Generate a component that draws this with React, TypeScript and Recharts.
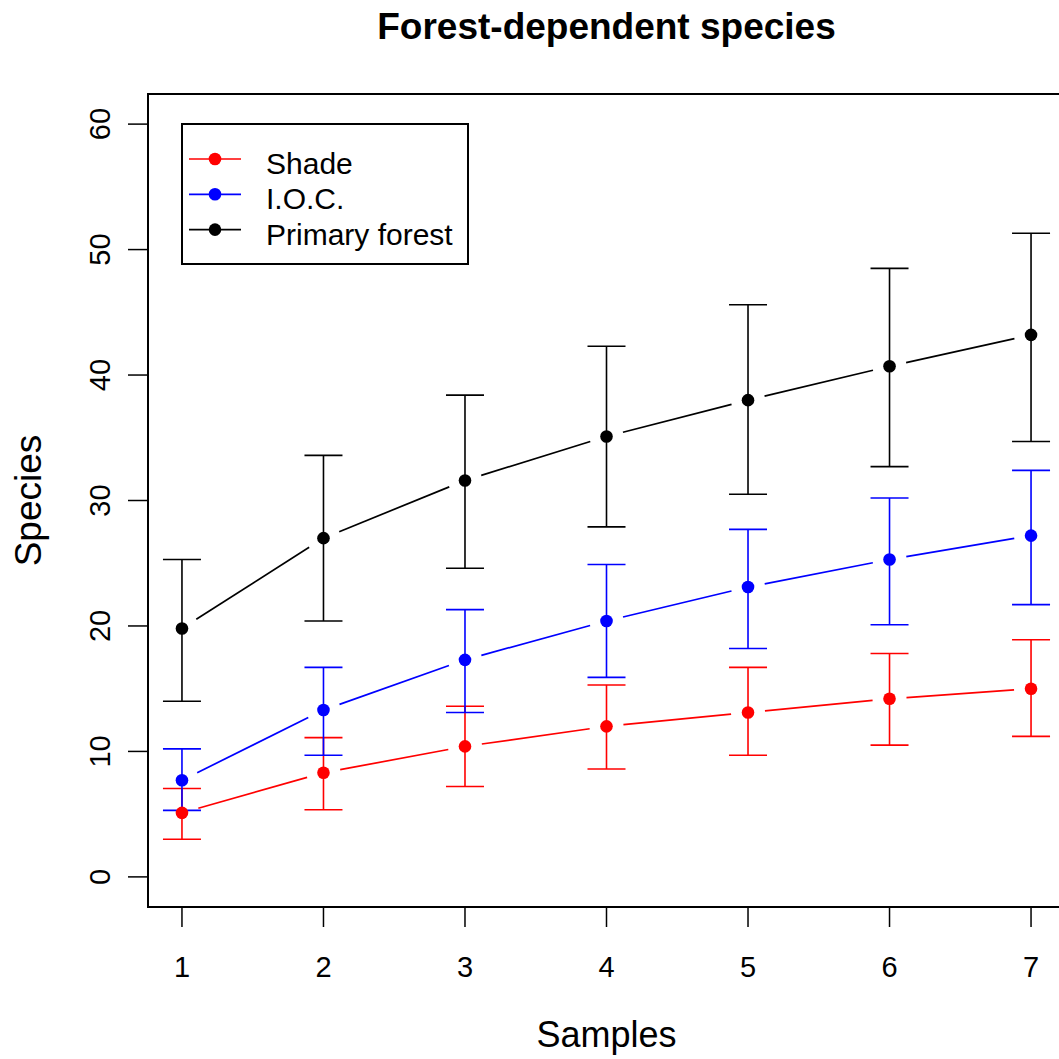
import React from "react";
import {
  ComposedChart,
  Line,
  XAxis,
  YAxis,
  ErrorBar,
  ReferenceArea,
} from "recharts";

// samples on the x axis
const samples = [1, 2, 3, 4, 5, 6, 7];

// Shade
const shadeMean = [5.1, 8.3, 10.4, 12.0, 13.1, 14.2, 15.0];
const shadeLow = [3.0, 5.35, 7.2, 8.6, 9.7, 10.5, 11.2];
const shadeHigh = [7.05, 11.1, 13.6, 15.3, 16.7, 17.8, 18.9];

// I.O.C.
const iocMean = [7.7, 13.3, 17.3, 20.4, 23.1, 25.3, 27.2];
const iocLow = [5.3, 9.7, 13.1, 15.9, 18.2, 20.1, 21.7];
const iocHigh = [10.2, 16.7, 21.3, 24.9, 27.7, 30.2, 32.4];

// Primary forest
const forestMean = [19.8, 27.0, 31.6, 35.1, 38.0, 40.7, 43.2];
const forestLow = [14.0, 20.4, 24.6, 27.9, 30.5, 32.7, 34.7];
const forestHigh = [25.3, 33.6, 38.4, 42.3, 45.6, 48.5, 51.3];

const yTicks = [0, 10, 20, 30, 40, 50, 60];

const series = [
  { key: "shade", name: "Shade", color: "#ff0000", mean: shadeMean, low: shadeLow, high: shadeHigh },
  { key: "ioc", name: "I.O.C.", color: "#0000ff", mean: iocMean, low: iocLow, high: iocHigh },
  { key: "forest", name: "Primary forest", color: "#000000", mean: forestMean, low: forestLow, high: forestHigh },
];

const data = samples.map((s, i) => {
  const row: any = { sample: s };
  series.forEach((sr) => {
    row[sr.key] = sr.mean[i];
    row[sr.key + "Err"] = [sr.mean[i] - sr.low[i], sr.high[i] - sr.mean[i]];
  });
  return row;
});

const FONT = '"Liberation Sans", Arial, Helvetica, sans-serif';
const GAP = 17;

// R type="b": points joined by segments that stop short of each point.
// Each dot draws the segment coming in from the previous dot.
const makeDot = (color: string) => {
  let prev: { x: number; y: number } | null = null;
  return (props: any) => {
    const { cx, cy, index, points } = props;
    let from = null;
    if (points && index > 0 && points[index - 1]) {
      from = { x: points[index - 1].x, y: points[index - 1].y };
    } else if (index > 0 && prev) {
      from = prev;
    }
    prev = { x: cx, y: cy };
    let seg = null;
    if (from) {
      const dx = cx - from.x;
      const dy = cy - from.y;
      const len = Math.sqrt(dx * dx + dy * dy);
      if (len > GAP * 2) {
        const ux = dx / len;
        const uy = dy / len;
        seg = (
          <line
            x1={from.x + ux * GAP}
            y1={from.y + uy * GAP}
            x2={cx - ux * GAP}
            y2={cy - uy * GAP}
            stroke={color}
            strokeWidth={1.7}
          />
        );
      }
    }
    return (
      <g key={`dot-${index}`}>
        {seg}
        <circle cx={cx} cy={cy} r={6.3} fill={color} />
      </g>
    );
  };
};

const YTick = ({ x, y, payload }: any) => (
  <text
    transform={`translate(${x - 16},${y}) rotate(-90)`}
    textAnchor="middle"
    fontSize={29}
    fontFamily={FONT}
    fill="#000"
  >
    {payload.value}
  </text>
);

const XTick = ({ x, y, payload }: any) => (
  <text x={x} y={y + 48} textAnchor="middle" fontSize={29} fontFamily={FONT} fill="#000">
    {payload.value}
  </text>
);

const Legend = () => (
  <svg
    width={290}
    height={144}
    style={{ position: "absolute", left: 180, top: 122 }}
  >
    <rect x={2} y={2} width={286} height={140} fill="#fff" stroke="#000" strokeWidth={2} />
    {series.map((s, i) => {
      const cy = 37 + i * 35.3;
      return (
        <g key={s.key}>
          <line x1={9} y1={cy} x2={61} y2={cy} stroke={s.color} strokeWidth={1.7} />
          <circle cx={35} cy={cy} r={6.3} fill={s.color} />
          <text x={86} y={cy + 15} fontSize={30} fontFamily={FONT} fill="#000">
            {s.name}
          </text>
        </g>
      );
    })}
  </svg>
);

export default function App() {
  return (
    <div
      style={{
        position: "absolute",
        left: 0,
        top: 0,
        width: 1059,
        height: 1059,
        overflow: "hidden",
        background: "#fff",
      }}
    >
      <div
        style={{
          position: "absolute",
          left: 148,
          width: 917,
          top: 8,
          textAlign: "center",
          fontFamily: FONT,
          fontWeight: "bold",
          fontSize: 37,
          lineHeight: "37px",
          color: "#000",
        }}
      >
        Forest-dependent species
      </div>
      <div style={{ position: "absolute", left: 0, top: 0 }}>
        <ComposedChart
          width={1066}
          height={1059}
          data={data}
          margin={{ top: 94, right: 1, left: 0, bottom: 0 }}
        >
          <XAxis
            dataKey="sample"
            type="number"
            domain={[0.76, 7.24]}
            ticks={samples}
            axisLine={false}
            tickSize={20}
            tickLine={{ stroke: "#000", strokeWidth: 1.5 }}
            tick={<XTick />}
            height={152}
            label={(p: any) => {
              const vb = p.viewBox || { x: 148, y: 907, width: 917 };
              return (
                <text
                  x={vb.x + vb.width / 2}
                  y={vb.y + 140}
                  textAnchor="middle"
                  fontSize={36}
                  fontFamily={FONT}
                  fill="#000"
                >
                  Samples
                </text>
              );
            }}
          />
          <YAxis
            type="number"
            domain={[-2.4, 62.4]}
            ticks={yTicks}
            axisLine={false}
            tickSize={20}
            tickLine={{ stroke: "#000", strokeWidth: 1.5 }}
            tick={<YTick />}
            width={148}
            label={(p: any) => {
              const vb = p.viewBox || { x: 0, y: 94, width: 148, height: 813 };
              const cy = vb.y + vb.height / 2;
              return (
                <text
                  transform={`translate(${vb.x + 41},${cy}) rotate(-90)`}
                  textAnchor="middle"
                  fontSize={37}
                  fontFamily={FONT}
                  fill="#000"
                >
                  Species
                </text>
              );
            }}
          />
          <ReferenceArea
            x1={0.76}
            x2={7.24}
            y1={-2.4}
            y2={62.4}
            fill="none"
            fillOpacity={0}
            stroke="#000"
            strokeWidth={2}
            ifOverflow="visible"
          />
          {series.map((s) => (
            <Line
              key={s.key}
              dataKey={s.key}
              name={s.name}
              stroke="transparent"
              strokeWidth={0.001}
              dot={makeDot(s.color)}
              activeDot={false}
              isAnimationActive={false}
            >
              <ErrorBar
                dataKey={s.key + "Err"}
                direction="y"
                width={19}
                stroke={s.color}
                strokeWidth={1.6}
                strokeOpacity={1}
                isAnimationActive={false}
              />
            </Line>
          ))}
        </ComposedChart>
      </div>
      <Legend />
    </div>
  );
}
